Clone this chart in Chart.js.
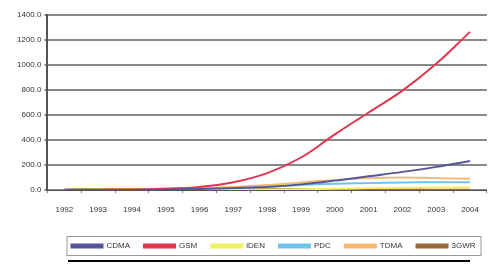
<!DOCTYPE html>
<html>
<head>
<meta charset="utf-8">
<script src="https://cdn.jsdelivr.net/npm/chart.js@4"></script>
<style>
  html, body { margin: 0; padding: 0; background: #fff; }
  #wrap { width: 491px; height: 264px; }
</style>
</head>
<body>
<div id="wrap"><canvas id="myChart"></canvas></div>
<script>
const years = ['1992', '1993', '1994', '1995', '1996', '1997', '1998', '1999', '2000', '2001', '2002', '2003', '2004'];
const cdma = [0, 0, 1, 3, 8, 15, 25, 45, 75, 110, 145, 185, 232];
const gsm = [0, 1, 3, 10, 25, 62, 135, 260, 445, 620, 795, 1010, 1265];
const iden = [0, 0, 0, 0, 1, 2, 4, 6, 10, 15, 18, 20, 22];
const pdc = [0, 0, 1, 2, 5, 12, 25, 40, 50, 55, 60, 62, 63];
const tdma = [0, 2, 4, 8, 15, 25, 40, 60, 80, 95, 100, 95, 90];
const gwr = [5, 6, 8, 10, 12, 12, 10, 8, 6, 5, 4, 3, 2];
const yTicks = [0, 200, 400, 600, 800, 1000, 1200, 1400];

const ctx = document.getElementById('myChart');

// legend frame + the dark rule under it, legend nudged to the right
const frame = {
    id: 'frame',
    afterLayout(chart) {
        const lg = chart.legend;
        lg.left += 22;
        lg.right += 22;
    },
    afterDraw(chart) {
        const c = chart.ctx;
        const items = chart.legend.legendHitBoxes;
        if (items && items.length) {
            const first = items[0];
            const last = items[items.length - 1];
            c.save();
            c.strokeStyle = '#999';
            c.lineWidth = 1;
            c.strokeRect(first.left - 4.5, first.top - 5.5, last.left + last.width - first.left + 10, first.height + 11);
            c.fillStyle = '#000';
            c.fillRect(68, 260, 402, 2);
            c.restore();
        }
    }
};

new Chart(ctx, {
    type: 'line',
    data: {
        labels: years,
        datasets: [
            { label: 'CDMA', data: cdma, borderColor: '#55559a', backgroundColor: '#55559a' },
            { label: 'GSM', data: gsm, borderColor: '#e0364f', backgroundColor: '#e0364f' },
            { label: 'iDEN', data: iden, borderColor: '#f4f066', backgroundColor: '#f4f066' },
            { label: 'PDC', data: pdc, borderColor: '#6ec3ea', backgroundColor: '#6ec3ea' },
            { label: 'TDMA', data: tdma, borderColor: '#f5b870', backgroundColor: '#f5b870' },
            { label: '3GWR', data: gwr, borderColor: '#9a6a3c', backgroundColor: '#9a6a3c' }
        ]
    },
    options: {
        responsive: true,
        maintainAspectRatio: false,
        animation: false,
        elements: {
            point: { radius: 0 },
            line: { borderWidth: 2, tension: 0.4 }
        },
        layout: { padding: { left: 14, right: 2, top: 15, bottom: 4 } },
        scales: {
            x: {
                offset: true,
                afterFit(scale) { scale.height = 38; },
                grid: { drawOnChartArea: false, drawTicks: true, tickLength: 3, color: '#777', offset: true },
                border: { color: '#555', width: 1 },
                ticks: { color: '#333', font: { family: 'Liberation Sans', size: 8 }, padding: 12, maxRotation: 0, autoSkip: false }
            },
            y: {
                min: 0,
                max: 1400,
                afterBuildTicks(scale) { scale.ticks = yTicks.map(v => ({ value: v })); },
                grid: { color: '#888', lineWidth: 2, drawTicks: true, tickLength: 3 },
                border: { color: '#555', width: 2 },
                ticks: { color: '#333', font: { family: 'Liberation Sans', size: 8 }, padding: 3, callback: v => v.toFixed(1) }
            }
        },
        plugins: {
            legend: {
                position: 'bottom',
                labels: {
                    boxWidth: 31,
                    boxHeight: 3,
                    padding: 14,
                    color: '#333',
                    font: { family: 'Liberation Sans', size: 8 }
                }
            },
            tooltip: { enabled: false }
        }
    },
    plugins: [frame]
});
</script>
</body>
</html>
